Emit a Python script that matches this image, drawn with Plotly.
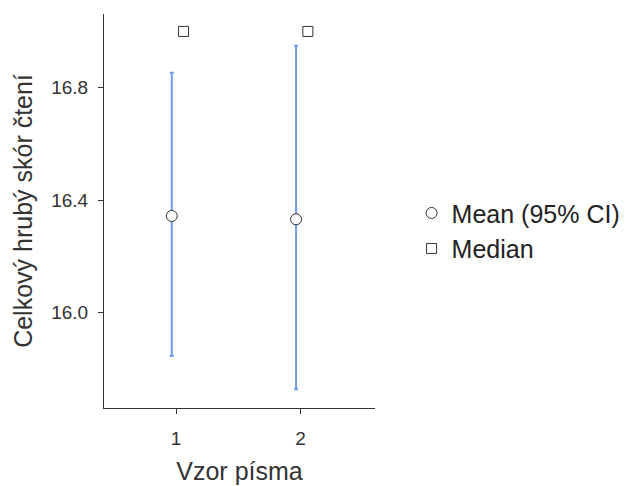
import plotly.graph_objects as go

# Summary of reading scores by font pattern
categories = [1, 2]
tick_labels = ["1", "2"]
mean_vals = [16.344, 16.332]
ci_lower = [15.846, 15.728]
ci_upper = [16.853, 16.949]
median_vals = [17.0, 17.0]

mean_shift = -0.035
median_shift = 0.06

x_mean = [c + mean_shift for c in categories]
x_median = [c + median_shift for c in categories]

fig = go.Figure()

# 95% CI bars (no legend entry)
fig.add_trace(go.Scatter(
    x=x_mean, y=mean_vals, mode="markers",
    marker=dict(size=1, color="rgba(0,0,0,0)"),
    error_y=dict(type="data", symmetric=False,
                 array=[u - m for u, m in zip(ci_upper, mean_vals)],
                 arrayminus=[m - l for m, l in zip(mean_vals, ci_lower)],
                 color="#6f9ded", thickness=2, width=2),
    showlegend=False, hoverinfo="skip",
))

fig.add_trace(go.Scatter(
    x=x_mean, y=mean_vals, mode="markers", name="Mean (95% CI)",
    marker=dict(symbol="circle", size=11, color="white",
                line=dict(color="#333333", width=1)),
))

fig.add_trace(go.Scatter(
    x=x_median, y=median_vals, mode="markers", name="Median",
    marker=dict(symbol="square", size=10, color="white",
                line=dict(color="#333333", width=1)),
))

font_family = "Liberation Sans, Arial, sans-serif"

fig.update_layout(
    width=630, height=486,
    margin=dict(l=104, r=255, t=14, b=78, autoexpand=False),
    paper_bgcolor="white", plot_bgcolor="white",
    font=dict(family=font_family, color="#333333"),
    showlegend=True,
    legend=dict(x=1.135, xanchor="left", y=0.45, yanchor="middle",
                font=dict(size=25, color="#222222"),
                bgcolor="rgba(0,0,0,0)", itemsizing="trace",
                tracegroupgap=0),
    xaxis=dict(
        range=[0.42, 2.6], automargin=False,
        tickmode="array", tickvals=categories, ticktext=tick_labels,
        showgrid=False, zeroline=False,
        showline=True, linecolor="#333333", linewidth=1,
        ticks="outside", ticklen=5, tickcolor="#333333",
        ticklabelstandoff=8,
        tickfont=dict(size=19, color="#333333"),
        title=dict(text="Vzor písma", font=dict(size=25, color="#333333"),
                   standoff=14),
    ),
    yaxis=dict(
        range=[15.661, 17.062], automargin=False,
        tickmode="array", tickvals=[16.0, 16.4, 16.8],
        ticktext=["16.0", "16.4", "16.8"],
        showgrid=False, zeroline=False,
        showline=True, linecolor="#333333", linewidth=1,
        ticks="outside", ticklen=5, tickcolor="#333333",
        ticklabelstandoff=6,
        tickfont=dict(size=19, color="#333333"),
        title=dict(text="Celkový hrubý skór čtení",
                   font=dict(size=25, color="#333333"), standoff=11),
    ),
)

fig.write_html("out.html")
